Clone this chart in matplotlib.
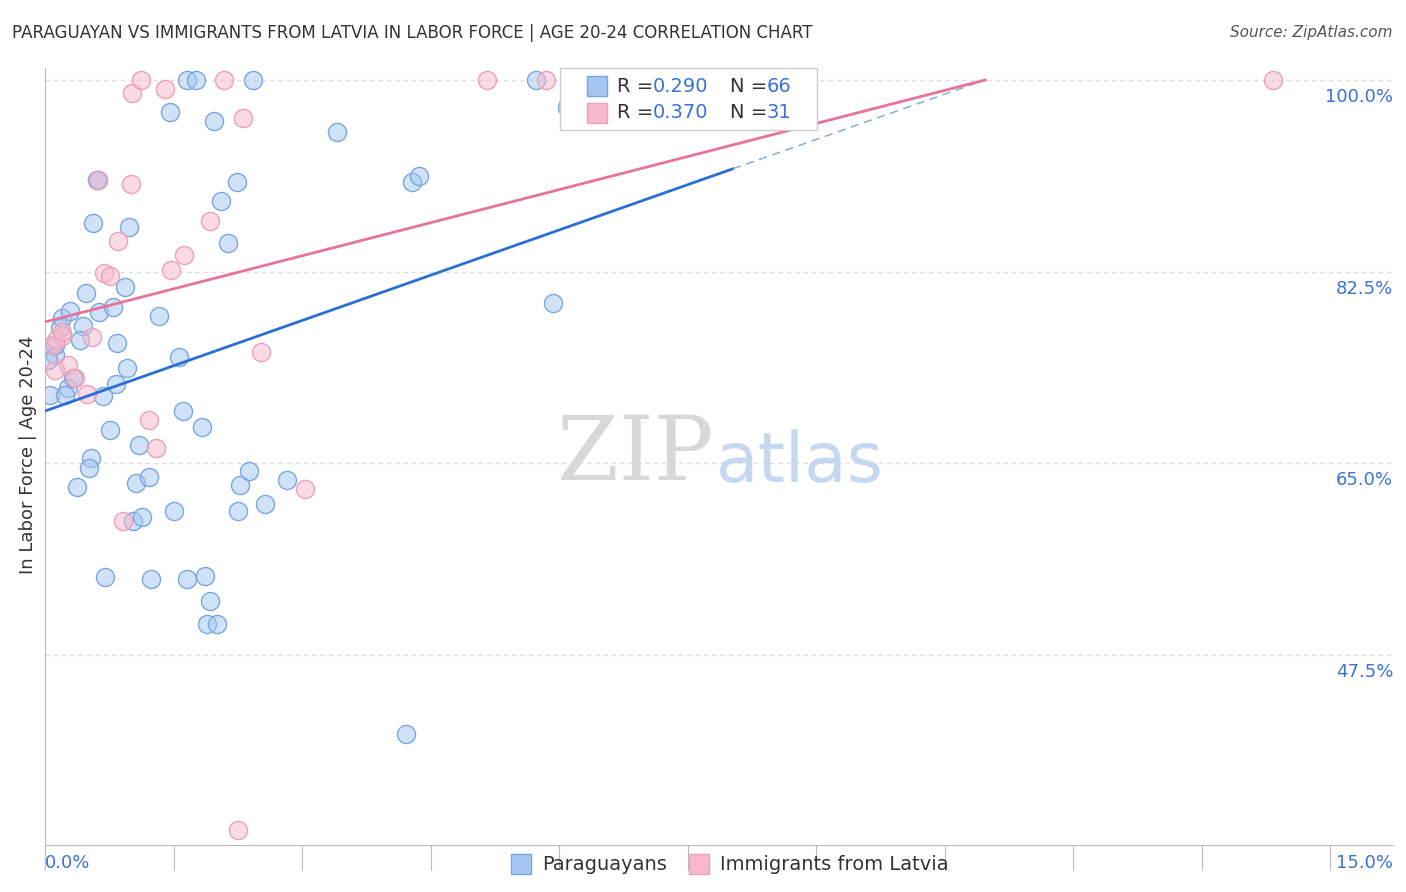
import matplotlib
matplotlib.use("Agg")
import matplotlib.pyplot as plt
import numpy as np

blue_px = [(50,395),(55,355),(60,328),(62,318),(70,311),(68,388),(65,395),(83,326),(80,340),(86,293),(99,312),(113,307),(125,287),(117,343),(73,378),(103,396),(116,384),(127,368),(159,316),(179,357),(110,430),(139,445),(91,458),(89,468),(77,487),(136,483),(149,477),(133,521),(142,517),(174,511),(183,411),(202,427),(105,577),(151,579),(187,579),(205,576),(210,601),(207,624),(217,624),(240,485),(249,471),(238,511),(265,504),(287,480),(93,223),(129,227),(98,180),(170,112),(214,121),(221,201),(228,243),(237,182),(187,80),(196,80),(253,80),(337,132),(412,182),(419,176),(536,80),(567,107),(553,303),(406,734),(55,345),(97,180),(637,80),(48,360)]
pink_px = [(52,345),(62,336),(68,365),(56,340),(75,378),(92,337),(87,394),(104,273),(110,276),(118,241),(131,184),(132,93),(141,80),(165,89),(171,270),(184,255),(210,221),(224,80),(243,118),(261,352),(305,489),(149,420),(156,448),(123,521),(98,180),(487,80),(546,80),(1273,80),(238,830),(55,370),(62,332)]

def cx(p): return (p-45)/85.67
def cy(p): return 100-(p-80)/10.943
paraguayan_x = [round(cx(a),2) for a,b in blue_px]
paraguayan_y = [round(cy(b),2) for a,b in blue_px]
latvia_x = [round(cx(a),2) for a,b in pink_px]
latvia_y = [round(cy(b),2) for a,b in pink_px]
blue_line = (69.75, 100.0)
pink_line = (77.89, 100.0)

fig = plt.figure(figsize=(14.06,8.92), dpi=100)
ax = fig.add_axes([45/1406, 1-845/892, (1393-45)/1406, (845-68)/892])
xmax = 1348/85.67
ax.set_xlim(0, xmax); ax.set_ylim(cy(845), cy(68))
ax.scatter(paraguayan_x, paraguayan_y, s=170, facecolor=(0.64,0.78,0.95,0.5), edgecolor="#7aa6e0", linewidth=1, zorder=3)
ax.scatter(latvia_x, latvia_y, s=170, facecolor=(0.97,0.72,0.80,0.5), edgecolor="#eea0b8", linewidth=1, zorder=3)
xe = cx(985)
xs = 8.03
ym = blue_line[0]+(blue_line[1]-blue_line[0])*xs/xe
ax.plot([0, xs], [blue_line[0], ym], color="#2a6fd6", lw=2, zorder=4)
ax.plot([xs, xe], [ym, blue_line[1]], color="#7aa6e0", lw=1, ls=(0,(6,4)), zorder=4)
ax.plot([0, xe], list(pink_line), color="#e8739a", lw=2, zorder=4)

for v in [100, 82.5, 65, 47.5]:
    ax.axhline(v, color="#dddddd", lw=1, ls=(0,(3,3)), zorder=1)
    fig.text(1393/1406, 1-(97+(100-v)*10.943)/892, f"{v:.1f}%", color="#3a72d8", fontsize=13, ha="right", va="center")
ax.set_yticks([])
ax.set_xticks(np.arange(0, 15.01, 1.5))
ax.set_xticklabels([])
ax.tick_params(axis="x", length=18, color="#bbbbbb")
for s in ["top","right"]: ax.spines[s].set_visible(False)
ax.spines["left"].set_color("#bbbbbb"); ax.spines["bottom"].set_color("#bbbbbb")
fig.text(45/1406, 1-863/892, "0.0%", color="#3a72d8", fontsize=13, va="center")
fig.text(1393/1406, 1-863/892, "15.0%", color="#3a72d8", fontsize=13, va="center", ha="right")
fig.text(12/1406, 1-33/892, "PARAGUAYAN VS IMMIGRANTS FROM LATVIA IN LABOR FORCE | AGE 20-24 CORRELATION CHART", fontsize=12, color="#333333", va="center")
fig.text(1393/1406, 1-33/892, "Source: ZipAtlas.com", fontsize=11, color="#555555", va="center", ha="right", style="italic")
fig.text(28/1406, 1-455/892, "In Labor Force | Age 20-24", rotation=90, fontsize=13, color="#333333", va="center", ha="center")
fig.text(635/1406, 1-455/892, "ZIP", fontsize=64, color="#d8d8d8", ha="center", va="center", family="DejaVu Serif")
fig.text(800/1406, 1-462/892, "atlas", fontsize=50, color="#c5d8ef", ha="center", va="center")

fig.patches.append(plt.Rectangle((560/1406, 1-130/892), 257/1406, 62/892, transform=fig.transFigure, facecolor="white", edgecolor="#cccccc", lw=1, zorder=5))
for i,(fc,ec,r,n) in enumerate([((0.64,0.78,0.95),"#7aa6e0","0.290","66"),((0.97,0.72,0.80),"#eea0b8","0.370","31")]):
    yy = 1-(86+27*i)/892
    fig.patches.append(plt.Rectangle((587/1406, yy-10/892), 20/1406, 20/892, transform=fig.transFigure, facecolor=fc, edgecolor=ec, zorder=6))
    fig.text(617/1406, yy, "R =", fontsize=14, color="#333333", va="center", zorder=7)
    fig.text(653/1406, yy, r, fontsize=14, color="#3a72d8", va="center", zorder=7)
    fig.text(730/1406, yy, "N =", fontsize=14, color="#333333", va="center", zorder=7)
    fig.text(791/1406, yy, n, fontsize=14, color="#3a72d8", va="center", ha="right", zorder=7)
for (x0,fc,ec,lab) in [(511,(0.64,0.78,0.95),"#7aa6e0","Paraguayans"),(689,(0.97,0.72,0.80),"#eea0b8","Immigrants from Latvia")]:
    yy = 1-864/892
    fig.patches.append(plt.Rectangle((x0/1406, yy-10/892), 20/1406, 20/892, transform=fig.transFigure, facecolor=fc, edgecolor=ec))
    fig.text((x0+31)/1406, yy, lab, fontsize=14, color="#333333", va="center")
fig.savefig("out.png", dpi=100)
